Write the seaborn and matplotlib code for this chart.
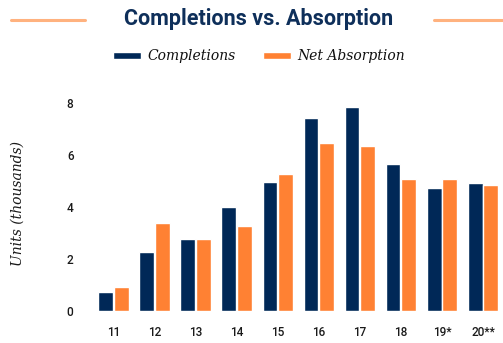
import matplotlib
matplotlib.use("Agg")
import matplotlib.pyplot as plt
from matplotlib.patches import Patch
from matplotlib.lines import Line2D
import seaborn as sns
import pandas as pd

years = ["11", "12", "13", "14", "15", "16", "17", "18", "19*", "20**"]
completions = [0.73, 2.27, 2.77, 4.0, 4.96, 7.42, 7.85, 5.65, 4.73, 4.92]
net_absorption = [0.93, 3.38, 2.77, 3.27, 5.27, 6.46, 6.35, 5.08, 5.08, 4.85]

NAVY = "#002857"
ORANGE = "#FF8133"
LINE_ORANGE = "#FFB27F"
TITLE_NAVY = "#0E2F5A"

df = pd.DataFrame({
    "year": years * 2,
    "units": completions + net_absorption,
    "series": ["Completions"] * len(years) + ["Net Absorption"] * len(years),
})

sns.set_theme(style="white")
plt.rcParams["font.family"] = ["Roboto", "DejaVu Sans"]

W, H = 503, 343
fig = plt.figure(figsize=(W / 100, H / 100), dpi=100)
ax = fig.add_axes([93 / W, (H - 311) / H, (503.5 - 93) / W, 213.2 / H])

sns.barplot(data=df, x="year", y="units", hue="series", order=years,
            hue_order=["Completions", "Net Absorption"],
            palette=[NAVY, ORANGE], width=0.76, gap=0.05,
            saturation=1, legend=False, ax=ax)

ax.set_xlim(-0.5, 9.5)
ax.set_ylim(0, 8.2)
ax.set_yticks([0, 2, 4, 6, 8])
ax.set_xlabel("")
ax.set_ylabel("")
for s in ax.spines.values():
    s.set_visible(False)
ax.tick_params(axis="both", length=0, labelsize=8.5, colors="#1a1a1a")
ax.tick_params(axis="y", pad=14)
ax.tick_params(axis="x", pad=11)
for lbl in ax.get_xticklabels() + ax.get_yticklabels():
    lbl.set_fontweight("medium")

# title with decorative rules on either side
fig.text(259 / W, 1 - 19 / H, "Completions vs. Absorption", ha="center", va="center",
         fontsize=15.5, fontweight="bold", color=TITLE_NAVY,
         family=["Roboto", "DejaVu Sans"])
for x0, x1 in [(11, 85), (434, 503)]:
    fig.add_artist(Line2D([x0 / W, x1 / W], [1 - 19.7 / H] * 2,
                          color=LINE_ORANGE, lw=2.2, transform=fig.transFigure))

# legend
handles = [Patch(facecolor=NAVY, label="Completions"),
           Patch(facecolor=ORANGE, label="Net Absorption")]
leg = fig.legend(handles=handles, loc="center", bbox_to_anchor=(259 / W, 1 - 56 / H),
                 ncol=2, frameon=False, handlelength=2.0, handleheight=0.4,
                 handletextpad=0.45, columnspacing=2.0,
                 prop={"family": "DejaVu Serif", "style": "italic", "size": 10})
for t in leg.get_texts():
    t.set_color("#111111")

fig.text(18 / W, 1 - 203 / H, "Units (thousands)", rotation=90, ha="center", va="center",
         fontsize=10, style="italic", family="DejaVu Serif", color="#1a1a1a")

fig.savefig("out.png", dpi=100)
